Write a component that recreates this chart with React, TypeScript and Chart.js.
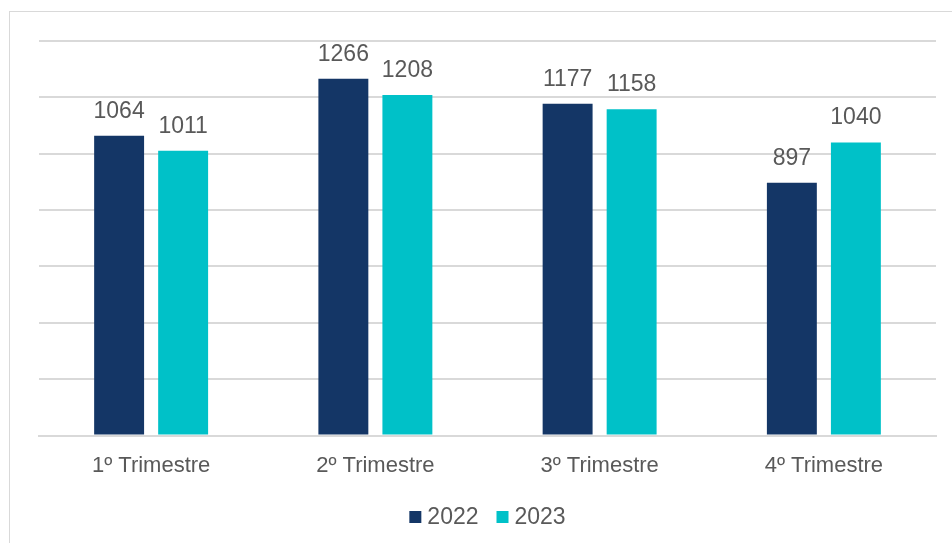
import React, { useEffect, useRef } from "react";
import { Chart, registerables } from "chart.js";

Chart.register(...registerables);

const categories = ["1º Trimestre", "2º Trimestre", "3º Trimestre", "4º Trimestre"];
const series2022 = [1064, 1266, 1177, 897];
const series2023 = [1011, 1208, 1158, 1040];
const seriesLabels = ["2022", "2023"];
const seriesColors = ["#143666", "#00C1C8"];

const FONT = "'Liberation Sans', Arial, sans-serif";
const TEXT = "#595959";

const valueLabels = {
  id: "valueLabels",
  afterDatasetsDraw(chart: any) {
    const ctx = chart.ctx;
    ctx.save();
    ctx.font = `23px ${FONT}`;
    ctx.fillStyle = TEXT;
    ctx.textAlign = "center";
    ctx.textBaseline = "alphabetic";
    chart.data.datasets.forEach((ds: any, i: number) => {
      const meta = chart.getDatasetMeta(i);
      meta.data.forEach((bar: any, j: number) => {
        ctx.fillText(String(ds.data[j]), bar.x, bar.y - 18);
      });
    });
    ctx.restore();
  },
};

const customLegend = {
  id: "customLegend",
  afterDraw(chart: any) {
    const ctx = chart.ctx;
    const area = chart.chartArea;
    ctx.save();
    ctx.font = `23px ${FONT}`;
    ctx.textBaseline = "middle";
    ctx.textAlign = "left";
    const box = 12;
    const gap = 6;
    const itemGap = 18;
    const items = chart.data.datasets.map((ds: any) => ({
      label: ds.label,
      color: ds.backgroundColor,
      w: box + gap + ctx.measureText(ds.label).width,
    }));
    const total = items.reduce((s: number, it: any) => s + it.w, 0) + itemGap * (items.length - 1);
    let x = (area.left + area.right) / 2 - total / 2;
    const y = 517;
    items.forEach((it: any) => {
      ctx.fillStyle = it.color;
      ctx.fillRect(x, y - box / 2, box, box);
      ctx.fillStyle = TEXT;
      ctx.fillText(it.label, x + box + gap, y + 1);
      x += it.w + itemGap;
    });
    ctx.restore();
  },
};

export default function App() {
  const ref = useRef<HTMLCanvasElement>(null);
  useEffect(() => {
    if (!ref.current) return;
    const chart = new Chart(ref.current, {
      type: "bar",
      data: {
        labels: categories,
        datasets: [
          { label: seriesLabels[0], data: series2022, backgroundColor: seriesColors[0] },
          { label: seriesLabels[1], data: series2023, backgroundColor: seriesColors[1] },
        ],
      },
      options: {
        animation: false,
        responsive: false,
        maintainAspectRatio: false,
        layout: { padding: { left: 39, right: 16, top: 41, bottom: 47 } },
        datasets: {
          bar: { categoryPercentage: 0.571, barPercentage: 0.78 },
        } as any,
        scales: {
          x: {
            grid: { display: false, drawTicks: false },
            border: { display: true, color: "#d9d9d9", width: 2 },
            ticks: { color: TEXT, font: { family: FONT, size: 22 }, padding: 17 },
          },
          y: {
            min: 0,
            max: 1400,
            ticks: { stepSize: 200, display: false },
            grid: { color: "#d9d9d9", lineWidth: 2, drawTicks: false },
            border: { display: false },
          },
        },
        plugins: {
          tooltip: { enabled: false },
          legend: { display: false },
        },
      },
      plugins: [valueLabels, customLegend],
    });
    return () => chart.destroy();
  }, []);
  return (
    <div style={{ position: "absolute", left: 0, top: 0, width: 952, height: 543, overflow: "hidden", background: "#fff" }}>
      <div
        style={{
          position: "absolute",
          left: 9,
          top: 11,
          width: 1000,
          height: 600,
          border: "1px solid #d9d9d9",
          boxSizing: "border-box",
        }}
      />
      <canvas ref={ref} width={952} height={543} style={{ position: "absolute", left: 0, top: 0 }} />
    </div>
  );
}
